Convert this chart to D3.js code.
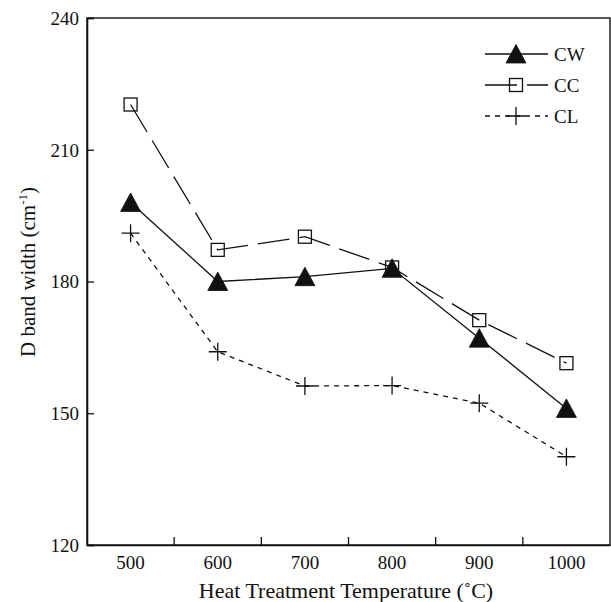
<!DOCTYPE html>
<html>
<head>
<meta charset="utf-8">
<script src="https://cdn.jsdelivr.net/npm/d3@7"></script>
<style>
  html, body { margin: 0; padding: 0; background: #fff; }
  svg text { font-family: "Liberation Serif", "Times New Roman", serif; fill: #111; }
</style>
</head>
<body>
<svg id="chart" width="611" height="602"></svg>
<script>
// Heat treatment temperatures (°C)
const temperatures = ["500", "600", "700", "800", "900", "1000"];
// D band width (cm-1) for each sample series
const cwValues = [198.0, 180.0, 181.1, 183.0, 167.1, 151.1];
const ccValues = [220.3, 187.2, 190.2, 183.2, 171.2, 161.4];
const clValues = [191.0, 164.0, 156.2, 156.3, 152.3, 140.1];
const yTicks = [120, 150, 180, 210, 240];
const seriesNames = ["CW", "CC", "CL"];

const svg = d3.select("#chart");
const plotLeft = 87, plotRight = 610, plotTop = 18, plotBottom = 545;

const x = d3.scaleBand().domain(temperatures).range([plotLeft, plotRight]).paddingInner(0).paddingOuter(0);
const y = d3.scaleLinear().domain([120, 240]).range([plotBottom, plotTop]);

const ink = "#111";

// Frame
svg.append("rect")
  .attr("x", plotLeft).attr("y", plotTop)
  .attr("width", plotRight - plotLeft).attr("height", plotBottom - plotTop)
  .attr("fill", "none").attr("stroke", ink).attr("stroke-width", 1.4);

// Y axis with inward ticks
const yAxis = svg.append("g")
  .attr("transform", `translate(${plotLeft},0)`)
  .call(d3.axisLeft(y).tickValues(yTicks).tickSize(-7).tickPadding(8).tickFormat(d3.format("d")));
yAxis.select(".domain").attr("stroke", ink).attr("stroke-width", 1.6);
yAxis.selectAll(".tick line").attr("stroke", ink).attr("stroke-width", 1.3);
yAxis.selectAll(".tick text")
  .attr("font-size", 19).attr("font-family", "Liberation Serif").attr("fill", ink).attr("dy", "0.33em");

// X axis labels centred in each band
const xAxis = svg.append("g")
  .attr("transform", `translate(0,${plotBottom})`)
  .call(d3.axisBottom(x).tickSize(0).tickPadding(10));
xAxis.select(".domain").attr("stroke", ink).attr("stroke-width", 1.6);
xAxis.selectAll(".tick text")
  .attr("font-size", 19).attr("font-family", "Liberation Serif").attr("fill", ink).attr("dy", "0.72em");

// X tick marks at band boundaries, pointing into the plot
svg.append("g").selectAll("line")
  .data(temperatures.slice(1))
  .join("line")
  .attr("x1", d => x(d)).attr("x2", d => x(d))
  .attr("y1", plotBottom).attr("y2", plotBottom - 8)
  .attr("stroke", ink).attr("stroke-width", 1.3);

// Axis titles
svg.append("text")
  .attr("x", 346).attr("y", 598)
  .attr("text-anchor", "middle")
  .attr("font-size", 22)
  .text("Heat Treatment Temperature (˚C)");

const yTitle = svg.append("text")
  .attr("transform", "translate(35,272) rotate(-90)")
  .attr("text-anchor", "middle")
  .attr("font-size", 21);
yTitle.append("tspan").text("D band width (cm");
yTitle.append("tspan").attr("font-size", 13).attr("dy", -8).text("-1");
yTitle.append("tspan").attr("dy", 8).text(")");

// Series styles
const series = [
  { name: "CW", values: cwValues, dash: null, marker: "triangle" },
  { name: "CC", values: ccValues, dash: "32,10", marker: "square" },
  { name: "CL", values: clValues, dash: "5,5", marker: "plus" }
];

const cx = d => x(d) + x.bandwidth() / 2;
const line = d3.line().x(d => cx(d.t)).y(d => y(d.v));

function drawMarker(g, type, px, py) {
  if (type === "triangle") {
    g.append("path")
      .attr("d", `M${px},${py - 9.5}L${px + 10},${py + 9}L${px - 10},${py + 9}Z`)
      .attr("fill", ink).attr("stroke", ink).attr("stroke-width", 0.8);
  } else if (type === "square") {
    g.append("rect")
      .attr("x", px - 6.5).attr("y", py - 6.5).attr("width", 13).attr("height", 13)
      .attr("fill", "none").attr("stroke", ink).attr("stroke-width", 1.3);
  } else {
    g.append("path")
      .attr("d", `M${px - 9},${py}H${px + 9}M${px},${py - 9}V${py + 9}`)
      .attr("fill", "none").attr("stroke", ink).attr("stroke-width", 1.3);
  }
}

// Lines first, then markers (squares, plus, triangles on top)
series.forEach(s => {
  const pts = temperatures.map((t, i) => ({ t, v: s.values[i] }));
  svg.append("path")
    .datum(pts)
    .attr("d", line)
    .attr("fill", "none")
    .attr("stroke", ink)
    .attr("stroke-width", 1.3)
    .attr("stroke-dasharray", s.dash);
});

["square", "plus", "triangle"].forEach(type => {
  const s = series.find(d => d.marker === type);
  const g = svg.append("g");
  temperatures.forEach((t, i) => drawMarker(g, type, cx(t), y(s.values[i])));
});

// Legend
const legendRows = [54, 85, 116];
series.forEach((s, i) => {
  const ly = legendRows[i];
  const g = svg.append("g");
  g.append("line")
    .attr("x1", 485).attr("x2", 548).attr("y1", ly).attr("y2", ly)
    .attr("stroke", ink).attr("stroke-width", 1.3)
    .attr("stroke-dasharray", s.dash);
  drawMarker(g, s.marker, 516, ly);
  g.append("text")
    .attr("x", 554).attr("y", ly + 7)
    .attr("font-size", 19)
    .text(seriesNames[i]);
});
</script>
</body>
</html>
